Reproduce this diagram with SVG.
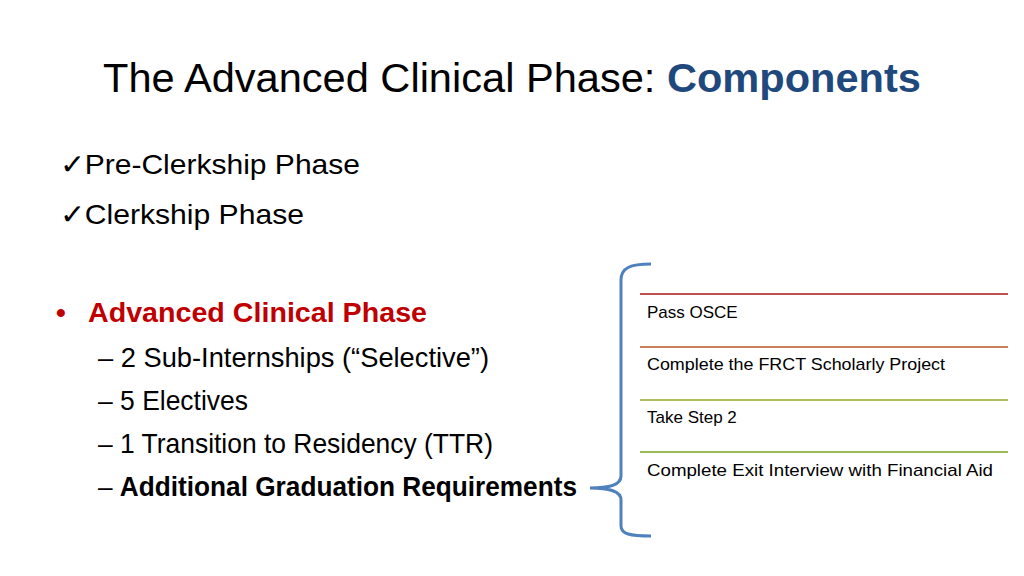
<svg xmlns="http://www.w3.org/2000/svg" width="1024" height="576" viewBox="0 0 1024 576">
<style>
text{font-family:"Liberation Sans",Arial,sans-serif;fill:#000}
.b{font-size:28px}
.s{font-size:17px}
.sep{stroke-width:2;fill:none}
</style>
<rect width="1024" height="576" fill="#fff"/>
<text x="103" y="92" font-size="40" textLength="818" lengthAdjust="spacingAndGlyphs">The Advanced Clinical Phase:  <tspan fill="#1f497d" font-weight="bold">Components</tspan></text>
<g id="left">
<text class="b" x="60" y="174" textLength="300" lengthAdjust="spacingAndGlyphs">✓Pre-Clerkship Phase</text>
<text class="b" x="60" y="224" textLength="244" lengthAdjust="spacingAndGlyphs">✓Clerkship Phase</text>
<text class="b" x="56" y="322" fill="#c00000" style="fill:#c00000" font-weight="bold">•</text>
<text class="b" x="88" y="322" style="fill:#c00000" font-weight="bold" textLength="339" lengthAdjust="spacingAndGlyphs">Advanced Clinical Phase</text>
<text class="b" x="98" y="367" textLength="391" lengthAdjust="spacingAndGlyphs">– 2 Sub-Internships (“Selective”)</text>
<text class="b" x="98" y="410" textLength="150" lengthAdjust="spacingAndGlyphs">– 5 Electives</text>
<text class="b" x="98" y="453" textLength="395" lengthAdjust="spacingAndGlyphs">– 1 Transition to Residency (TTR)</text>
<text class="b" x="98" y="496" textLength="479" lengthAdjust="spacingAndGlyphs">– <tspan font-weight="bold">Additional Graduation Requirements</tspan></text>
</g>
<g id="brace">
<path d="M651,264 C630,264 621,268 621,280 L621,476 C621,485 610,488 590,488 C610,488 621,491 621,500 L621,526 C621,534 630,536 651,536" fill="none" stroke="#4f81bd" stroke-width="3"/>
</g>
<g id="list">
<line class="sep" x1="640" y1="294" x2="1008" y2="294" stroke="#c0504d"/>
<text class="s" x="647" y="318">Pass OSCE</text>
<line class="sep" x1="640" y1="347" x2="1008" y2="347" stroke="#c8825a"/>
<text class="s" x="647" y="370" textLength="298" lengthAdjust="spacingAndGlyphs">Complete the FRCT Scholarly Project</text>
<line class="sep" x1="640" y1="400" x2="1008" y2="400" stroke="#b3bf5c"/>
<text class="s" x="647" y="423">Take Step 2</text>
<line class="sep" x1="640" y1="452" x2="1008" y2="452" stroke="#9bbb59"/>
<text class="s" x="647" y="476" textLength="346" lengthAdjust="spacingAndGlyphs">Complete Exit Interview with Financial Aid</text>
</g>
</svg>
